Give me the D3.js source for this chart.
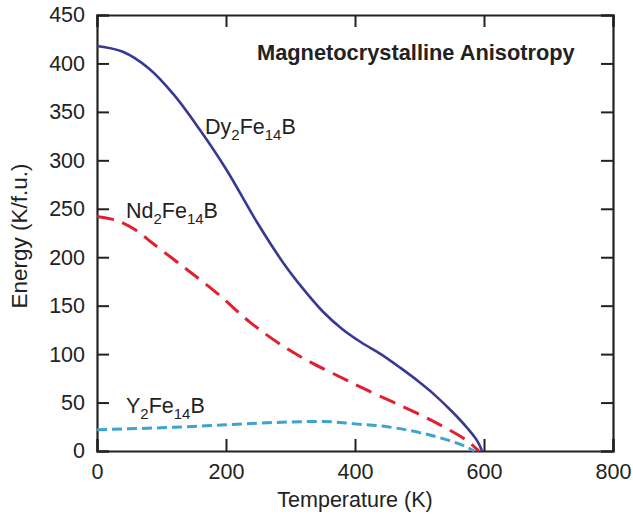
<!DOCTYPE html>
<html>
<head>
<meta charset="utf-8">
<script src="https://cdn.jsdelivr.net/npm/d3@7"></script>
<style>
  html, body { margin: 0; padding: 0; background: #fff; }
  text { font-family: "Liberation Sans", Arial, Helvetica, sans-serif; fill: #222; }
</style>
</head>
<body>
<svg id="chart" width="633" height="515"></svg>
<script>
// ---- data ----
const xTicks = [0, 200, 400, 600, 800];
const yTicks = [0, 50, 100, 150, 200, 250, 300, 350, 400, 450];

const dyT = [0, 40, 80, 120, 160, 200, 250, 290, 320, 350, 380, 410, 440, 470, 500, 520, 550, 575, 590, 597];
const dyE = [418, 412, 395, 367, 331, 291, 234, 193, 167, 144, 126, 112, 100, 86, 71, 60, 41, 23, 10, 0];

const ndT = [0, 30, 60, 87, 134, 186, 237, 289, 330, 366, 418, 496, 540, 573, 592];
const ndE = [242, 238, 228, 214, 190, 163, 133, 108, 92, 80, 63, 39, 24, 11, 0];

const yT = [0, 100, 200, 300, 350, 400, 450, 500, 540, 570, 585];
const yE = [22, 24, 27, 30, 30.5, 28, 25, 19, 12, 5, 0];

const seriesNames = ["Dy", "Nd", "Y"];
const title = "Magnetocrystalline Anisotropy";
const xLabel = "Temperature (K)";
const yLabel = "Energy (K/f.u.)";

// ---- layout ----
const svg = d3.select("#chart");
const L = 97, R = 613, T = 15, B = 451;
const x = d3.scaleLinear().domain([0, 800]).range([L, R]);
const y = d3.scaleLinear().domain([0, 450]).range([B, T]);
const FS = 21.5;

const tick = 12;
const axB = svg.append("g").attr("transform", `translate(0,${B})`)
  .call(d3.axisBottom(x).tickValues(xTicks).tickSize(-tick).tickPadding(13).tickFormat(d3.format("d")));
const axT = svg.append("g").attr("transform", `translate(0,${T})`)
  .call(d3.axisTop(x).tickValues(xTicks).tickSize(-tick).tickFormat(""));
const axL = svg.append("g").attr("transform", `translate(${L},0)`)
  .call(d3.axisLeft(y).tickValues(yTicks).tickSize(-tick).tickPadding(12).tickFormat(d3.format("d")));
const axR = svg.append("g").attr("transform", `translate(${R},0)`)
  .call(d3.axisRight(y).tickValues(yTicks).tickSize(-tick).tickFormat(""));

[axB, axT, axL, axR].forEach(a => {
  a.select(".domain").attr("stroke", "#222").attr("stroke-width", 2.2);
  a.selectAll(".tick line").attr("stroke", "#222").attr("stroke-width", 2);
  a.selectAll(".tick text").style("font-size", FS + "px").attr("fill", "#333")
    .style("font-family", "'Liberation Sans', Arial, sans-serif");
});

// ---- lines ----
const zip = (a, b) => a.map((v, i) => [v, b[i]]);
const lineSmooth = d3.line().x(d => x(d[0])).y(d => y(d[1])).curve(d3.curveCatmullRom.alpha(0.5));
const lineMono = d3.line().x(d => x(d[0])).y(d => y(d[1])).curve(d3.curveMonotoneX);

svg.append("path").datum(zip(yT, yE)).attr("d", lineMono)
  .attr("fill", "none").attr("stroke", "#3ea2d2").attr("stroke-width", 3)
  .attr("stroke-dasharray", "10,5");
svg.append("path").datum(zip(ndT, ndE)).attr("d", lineSmooth)
  .attr("fill", "none").attr("stroke", "#e0202e").attr("stroke-width", 3)
  .attr("stroke-dasharray", "17,9");
svg.append("path").datum(zip(dyT, dyE)).attr("d", lineSmooth)
  .attr("fill", "none").attr("stroke", "#373993").attr("stroke-width", 2.6);

// ---- labels ----
function formula(px, py, el) {
  const t = svg.append("text").attr("x", px).attr("y", py).style("font-size", FS + "px").attr("fill", "#333");
  t.append("tspan").text(el);
  t.append("tspan").attr("dy", 6).style("font-size", "15px").text("2");
  t.append("tspan").attr("dy", -6).text("Fe");
  t.append("tspan").attr("dy", 6).style("font-size", "15px").text("14");
  t.append("tspan").attr("dy", -6).text("B");
}
formula(205, 134, seriesNames[0]);
formula(126, 218, seriesNames[1]);
formula(126, 413, seriesNames[2]);

svg.append("text").attr("x", 257).attr("y", 60)
  .style("font-size", "21.8px").style("font-weight", "bold").attr("fill", "#111").text(title);

svg.append("text").attr("x", (L + R) / 2).attr("y", 507).attr("text-anchor", "middle")
  .style("font-size", FS + "px").attr("fill", "#333").text(xLabel);
svg.append("text").attr("transform", `translate(27,236) rotate(-90)`).attr("text-anchor", "middle")
  .style("font-size", "22.5px").attr("fill", "#333").text(yLabel);
</script>
</body>
</html>
